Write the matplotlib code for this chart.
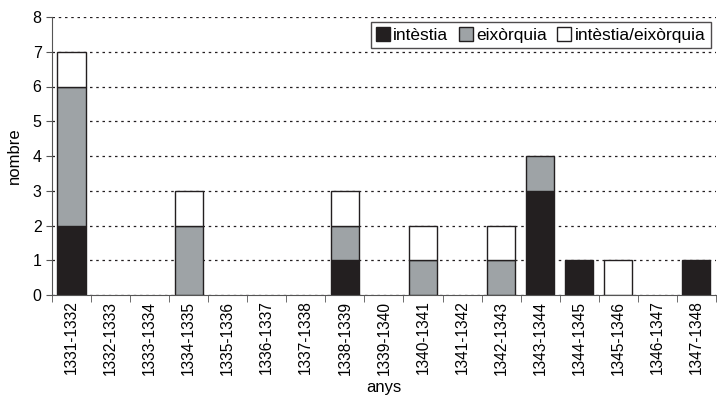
import matplotlib
matplotlib.use("Agg")
import matplotlib.pyplot as plt
import numpy as np

plt.rcParams['font.family'] = ['Liberation Sans', 'DejaVu Sans']

periods = ["1331-1332", "1332-1333", "1333-1334", "1334-1335", "1335-1336", "1336-1337",
           "1337-1338", "1338-1339", "1339-1340", "1340-1341", "1341-1342", "1342-1343",
           "1343-1344", "1344-1345", "1345-1346", "1346-1347", "1347-1348"]
intestia = [2, 0, 0, 0, 0, 0, 0, 1, 0, 0, 0, 0, 3, 1, 0, 0, 1]
eixorquia = [4, 0, 0, 2, 0, 0, 0, 1, 0, 1, 0, 1, 1, 0, 0, 0, 0]
ambdues = [1, 0, 0, 1, 0, 0, 0, 1, 0, 1, 0, 1, 0, 0, 1, 0, 0]

dark = "#231f20"
grey = "#9ea3a6"

x = np.arange(len(periods))
a = np.array(intestia)
b = np.array(eixorquia)
c = np.array(ambdues)

def lw(vals):
    # no outline for empty segments
    return [1 if v > 0 else 0 for v in vals]

fig = plt.figure(figsize=(7.17, 4.0), dpi=100)
ax = fig.add_axes([0.0725, 0.2625, 0.926, 0.695])

w = 0.72
ax.bar(x, a, w, color=dark, edgecolor=dark, linewidth=lw(a), label="intèstia")
ax.bar(x, b, w, bottom=a, color=grey, edgecolor=dark, linewidth=lw(b), label="eixòrquia")
ax.bar(x, c, w, bottom=a + b, color="white", edgecolor=dark, linewidth=lw(c), label="intèstia/eixòrquia")

ax.set_xlim(-0.5, len(periods) - 0.5)
ax.set_ylim(0, 8)
ax.set_yticks(range(0, 9))
ax.yaxis.grid(True, linestyle=(0, (2, 3)), color=dark, linewidth=0.9)
ax.set_axisbelow(True)

ax.set_xticks(x)
ax.set_xticklabels(periods, rotation=90, fontsize=11.2)
ax.tick_params(axis='x', length=0, pad=4)
ax.set_xticks(np.arange(-0.5, len(periods), 1), minor=True)
ax.tick_params(axis='x', which='minor', length=5, direction='out', color='#555555')
ax.tick_params(axis='y', labelsize=11.5, length=4, color='#555555')

for s in ['top', 'right']:
    ax.spines[s].set_visible(False)
ax.spines['left'].set_color('#555555')
ax.spines['bottom'].set_color('#555555')

ax.set_xlabel("anys", fontsize=12)
ax.xaxis.set_label_coords(0.5, -0.305)
ax.set_ylabel("nombre", fontsize=12, labelpad=8)

leg = ax.legend(loc='upper right', ncol=3, fontsize=12.5, frameon=True, fancybox=False,
                edgecolor=dark, handlelength=0.8, handleheight=0.8, handletextpad=0.2,
                columnspacing=0.6, borderaxespad=0.3, borderpad=0.3)
leg.get_frame().set_linewidth(1)

plt.savefig("out.png", dpi=100)
